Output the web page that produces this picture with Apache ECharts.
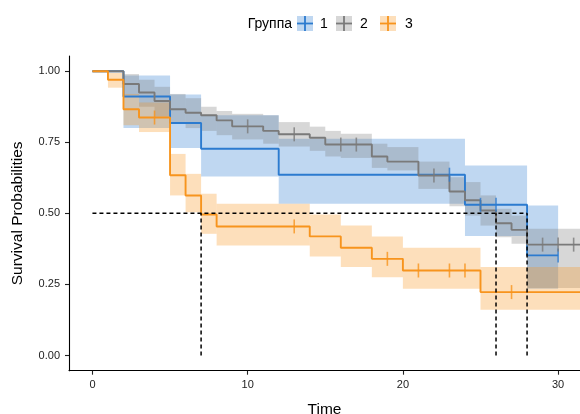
<!DOCTYPE html>
<html>
<head>
<meta charset="utf-8">
<script src="https://cdn.jsdelivr.net/npm/echarts@6/dist/echarts.min.js"></script>
<style>
html,body{margin:0;padding:0;background:#fff;}
#chart{width:580px;height:414px;}
</style>
</head>
<body>
<div id="chart"></div>
<script>
// ---- data ----
const timeTicks = [0, 10, 20, 30];
const survTicks = [0, 0.25, 0.5, 0.75, 1];
const groupNames = ['1', '2', '3'];

const g1Time = [0, 2, 5, 7, 12, 24, 28, 30];
const g1Surv = [1, 0.911, 0.818, 0.727, 0.636, 0.530, 0.352, 0.352];
const g2Time = [0, 2, 3, 4, 5, 6, 7, 8, 9, 11, 12, 14, 15, 18, 19, 21, 23, 24, 25, 26, 27, 28, 32];
const g2Surv = [1, 0.955, 0.925, 0.895, 0.866, 0.854, 0.845, 0.827, 0.806, 0.790, 0.778, 0.766, 0.742, 0.700, 0.682, 0.633, 0.577, 0.546, 0.510, 0.465, 0.442, 0.390, 0.390];
const g3Time = [0, 1, 2, 3, 5, 6, 7, 8, 14, 16, 18, 20, 25, 32];
const g3Surv = [1, 0.970, 0.866, 0.837, 0.634, 0.563, 0.496, 0.454, 0.419, 0.379, 0.340, 0.299, 0.223, 0.223];

const g1CensorTime = [23, 25, 26, 30];
const g1CensorSurv = [0.636, 0.530, 0.530, 0.352];
const g2CensorTime = [10, 13, 16, 17, 22, 29, 30, 31];
const g2CensorSurv = [0.806, 0.778, 0.742, 0.742, 0.633, 0.390, 0.390, 0.390];
const g3CensorTime = [4, 13, 19, 21, 23, 24, 27];
const g3CensorSurv = [0.837, 0.454, 0.340, 0.299, 0.299, 0.299, 0.223];

// confidence bands: [start, end, lower, upper]
const g1Band = [[2,5,0.80,0.985],[5,7,0.73,0.918],[7,12,0.63,0.845],[12,24,0.534,0.762],[24,28,0.42,0.668],[28,30,0.235,0.528]];
const g2Band = [[2,3,0.915,0.99],[3,4,0.875,0.97],[4,5,0.84,0.945],[5,6,0.815,0.92],[6,7,0.80,0.905],[7,8,0.79,0.875],[8,9,0.775,0.86],[9,11,0.76,0.85],[11,12,0.745,0.845],[12,14,0.735,0.821],[14,15,0.72,0.805],[15,16,0.70,0.79],[16,18,0.695,0.78],[18,19,0.66,0.745],[19,21,0.651,0.733],[21,23,0.586,0.682],[23,24,0.525,0.627],[24,25,0.492,0.61],[25,26,0.457,0.563],[26,27,0.416,0.516],[27,28,0.393,0.492],[28,32,0.237,0.446]];
const g3Band = [[1,2,0.942,0.995],[2,3,0.81,0.92],[3,5,0.786,0.89],[5,6,0.563,0.709],[6,7,0.504,0.639],[7,8,0.428,0.569],[8,14,0.387,0.534],[14,16,0.348,0.496],[16,18,0.311,0.457],[18,20,0.275,0.419],[20,25,0.235,0.379],[25,32,0.161,0.311]];

const medianTimes = [7, 26, 28];
const medianLevel = 0.5;

// ---- styling ----
const lineColors = ['#2c7bcf', '#7a7a7a', '#f7941d'];
const bandColors = ['rgba(44,123,207,0.3)', 'rgba(122,122,122,0.3)', 'rgba(247,148,29,0.3)'];
const FONT = '"Liberation Sans", Arial, sans-serif';

const zip = (a, b) => a.map((v, i) => [v, b[i]]);

function bandSeries(band, color) {
  return {
    type: 'custom',
    z: 1,
    silent: true,
    data: band,
    encode: { x: [0, 1], y: [2, 3] },
    renderItem: function (params, api) {
      const p0 = api.coord([api.value(0), api.value(3)]);
      const p1 = api.coord([api.value(1), api.value(2)]);
      const rect = echarts.graphic.clipRectByRect(
        { x: p0[0], y: p0[1], width: p1[0] - p0[0], height: p1[1] - p0[1] },
        { x: params.coordSys.x, y: params.coordSys.y, width: params.coordSys.width, height: params.coordSys.height }
      );
      if (!rect) return null;
      return { type: 'rect', shape: rect, style: { fill: color } };
    }
  };
}

function stepSeries(t, s, color) {
  return {
    type: 'line', step: 'end', z: 3, silent: true, showSymbol: false,
    data: zip(t, s), lineStyle: { color: color, width: 1.9 }, clip: true
  };
}

function censorSeries(t, s, color) {
  return {
    type: 'scatter', z: 4, silent: true, symbol: 'rect', symbolSize: [1.6, 14],
    data: zip(t, s), itemStyle: { color: color }, clip: true
  };
}

const dashStyle = { color: '#000', width: 1.5, type: [4, 3] };
const medianSeries = [{
  type: 'line', z: 5, silent: true, showSymbol: false,
  data: [[0, medianLevel], [Math.max.apply(null, medianTimes), medianLevel]],
  lineStyle: dashStyle
}].concat(medianTimes.map(m => ({
  type: 'line', z: 5, silent: true, showSymbol: false,
  data: [[m, 0], [m, medianLevel]],
  lineStyle: dashStyle
})));

// legend (graphic)
const legendEls = [];
legendEls.push({ type: 'text', x: 292, y: 24, style: { text: 'Группа', fill: '#000', font: '14px ' + FONT, align: 'right', verticalAlign: 'middle', textAlign: 'right', textVerticalAlign: 'middle' } });
const boxX = [297, 336, 380];
const labX = [320, 360, 405];
groupNames.forEach((g, i) => {
  legendEls.push({ type: 'rect', shape: { x: boxX[i], y: 16, width: 16, height: 15 }, style: { fill: bandColors[i] } });
  legendEls.push({ type: 'line', shape: { x1: boxX[i], y1: 23.5, x2: boxX[i] + 16, y2: 23.5 }, style: { stroke: lineColors[i], lineWidth: 1.8 } });
  legendEls.push({ type: 'line', shape: { x1: boxX[i] + 8, y1: 16, x2: boxX[i] + 8, y2: 31 }, style: { stroke: lineColors[i], lineWidth: 1.8 } });
  legendEls.push({ type: 'text', x: labX[i], y: 24, style: { text: g, fill: '#000', font: '14px ' + FONT, align: 'left', verticalAlign: 'middle', textAlign: 'left', textVerticalAlign: 'middle' } });
});

const chart = echarts.init(document.getElementById('chart'), null, { renderer: 'canvas' });
chart.setOption({
  animation: false,
  backgroundColor: '#fff',
  textStyle: { fontFamily: FONT },
  grid: { left: 69, right: 0, top: 56, bottom: 43.3, containLabel: false, outerBoundsMode: 'none' },
  xAxis: {
    type: 'value', min: -1.51, max: 31.41,
    name: 'Time', nameLocation: 'middle', nameGap: 31,
    nameTextStyle: { fontSize: 15.5, color: '#000', fontFamily: FONT },
    axisLine: { onZero: false, lineStyle: { color: '#000', width: 1.1 } },
    axisTick: { show: true, length: 4, customValues: timeTicks, lineStyle: { color: '#222', width: 1.1 } },
    axisLabel: { customValues: timeTicks, fontSize: 11, color: '#222', margin: 9, fontFamily: FONT },
    splitLine: { show: false }
  },
  yAxis: {
    type: 'value', min: -0.0535, max: 1.0535,
    name: 'Survival Probabilities', nameLocation: 'middle', nameGap: 43,
    nameTextStyle: { fontSize: 15.5, color: '#000', fontFamily: FONT },
    axisLine: { onZero: false, lineStyle: { color: '#000', width: 1.1 } },
    axisTick: { show: true, length: 4, customValues: survTicks, lineStyle: { color: '#222', width: 1.1 } },
    axisLabel: { customValues: survTicks, fontSize: 11, color: '#222', margin: 9, fontFamily: FONT, formatter: v => v.toFixed(2) },
    splitLine: { show: false }
  },
  graphic: { elements: legendEls },
  series: [
    bandSeries(g1Band, bandColors[0]),
    bandSeries(g2Band, bandColors[1]),
    bandSeries(g3Band, bandColors[2]),
    stepSeries(g1Time, g1Surv, lineColors[0]),
    stepSeries(g2Time, g2Surv, lineColors[1]),
    stepSeries(g3Time, g3Surv, lineColors[2]),
    censorSeries(g1CensorTime, g1CensorSurv, lineColors[0]),
    censorSeries(g2CensorTime, g2CensorSurv, lineColors[1]),
    censorSeries(g3CensorTime, g3CensorSurv, lineColors[2])
  ].concat(medianSeries)
});
</script>
</body>
</html>
